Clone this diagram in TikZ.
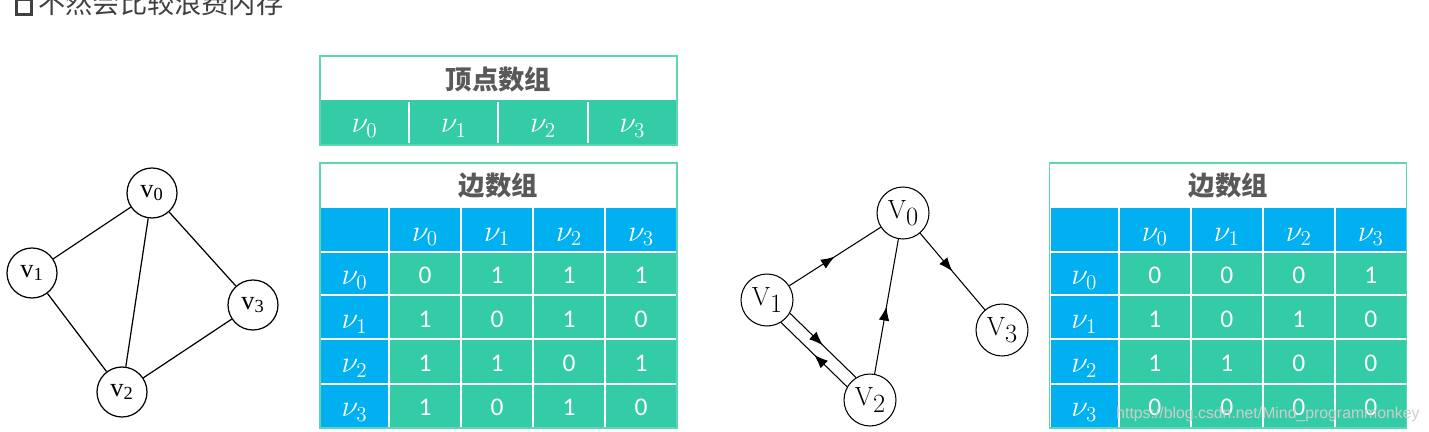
\documentclass[tikz,border=0pt]{standalone}
\usepackage{fontspec}
\usepackage{amsmath}
\usepackage{tikz}
\usetikzlibrary{arrows.meta, calc, decorations.markings}

\newfontfamily\cjk{Noto Sans CJK SC}
\newfontfamily\cellfont{Carlito}
\newfontfamily\timesfont{Liberation Serif}
\newfontfamily\urlfont{Liberation Sans}

\definecolor{tgreen}{RGB}{51,204,166}
\definecolor{tblue}{RGB}{0,176,240}
\definecolor{tborder}{RGB}{92,214,180}
\definecolor{titlegray}{RGB}{89,89,89}
\definecolor{textgray}{RGB}{64,64,64}
\definecolor{urlgray}{RGB}{205,205,205}

% edge array: #1 shift, #2 name prefix, #3 rows of the matrix
\newcommand{\edgearray}[3]{%
  \begin{scope}[xshift=#1]
    \draw[fill=white, draw=tborder, line width=0.6pt] (320,163) rectangle (677,428);
    \node[ttl] (#2title) at (498.5,186) {边数组};
    \fill[tblue] (321,208) rectangle (676,252);
    \fill[tblue] (321,252) rectangle (389,427);
    \fill[tgreen] (389,252) rectangle (676,427);
    % white grid
    \foreach \x in {389,461,533,605} \draw[grid] (\x,208) -- (\x,427);
    \foreach \y in {252,295,339,384} \draw[grid] (321,\y) -- (676,\y);
    % labels
    \foreach \i in {0,...,3} {
      \node[lab] (#2c\i) at ({425+72*\i},241) {$\nu_{\i}$};
      \node[lab] (#2r\i) at (354.5,{284.5+44*\i}) {$\nu_{\i}$};
    }
    \foreach \rowi/\vals in {#3} {
      \foreach \bit [count=\c from 0] in \vals
        \node[numtxt] (#2m\rowi\c) at ({425+72*\c},{283+44*\rowi}) {\bit};
    }
  \end{scope}}

\begin{document}
\begin{tikzpicture}[x=0.02cm, y=-0.02cm,
  vtx/.style={circle, draw, line width=0.7pt, minimum size=1cm, inner sep=0pt,
    font=\timesfont\fontsize{15}{17}\selectfont},
  dvtx/.style={circle, draw, line width=0.6pt, minimum size=1.04cm, inner sep=0pt,
    font=\fontsize{15}{18}\selectfont},
  link/.style={line width=0.7pt},
  darc/.style={line width=0.6pt, postaction={decorate},
    decoration={markings, mark=at position 0.5 with {\arrow{Latex[length=8pt,width=6pt]}}}},
  ttl/.style={font=\cjk\bfseries\fontsize{15}{18}\selectfont, text=titlegray},
  grid/.style={white, line width=1.1pt},
  lab/.style={anchor=base, text=white, font=\fontsize{18}{20}\selectfont},
  numtxt/.style={anchor=base, text=white, font=\cellfont\fontsize{14.5}{17}\selectfont}
]
\useasboundingbox (0,0) rectangle (1429,432);

% Heading line
\node[draw=textgray, line width=1.8pt, minimum size=8.6pt, inner sep=0pt] (bullet) at (24,7) {};
\node[anchor=base west, inner sep=0pt, text=textgray, font=\cjk\fontsize{15.5}{18}\selectfont]
  (intro) at (38,14) {不然会比较浪费内存};

% Undirected graph
\node[vtx] (a0) at (152,193) {v\textsubscript{0}};
\node[vtx] (a1) at (32,273) {v\textsubscript{1}};
\node[vtx] (a2) at (122,392) {v\textsubscript{2}};
\node[vtx] (a3) at (253,305) {v\textsubscript{3}};
\draw[link] (a0) -- (a1) (a0) -- (a2) (a0) -- (a3) (a1) -- (a2) (a2) -- (a3);

% Vertex array
\draw[fill=white, draw=tborder, line width=0.6pt] (320,56) rectangle (677,145);
\node[ttl] (vtitle) at (498.5,79) {顶点数组};
\fill[tgreen] (321,100) rectangle (676,144);
\foreach \x in {409,498,588} \draw[grid] (\x,102) -- (\x,143);
\foreach \i in {0,...,3}
  \node[lab] (va\i) at ({364.6+89.25*\i},133) {$\nu_{\i}$};

% Edge array of the undirected graph
\edgearray{0cm}{A}{0/{0,1,1,1},1/{1,0,1,0},2/{1,1,0,1},3/{1,0,1,0}}

% Directed graph
\node[dvtx] (b0) at (903,213) {V\raisebox{-3.8pt}{0}};
\node[dvtx] (b1) at (767,300) {V\raisebox{-3.8pt}{1}};
\node[dvtx] (b2) at (870,400) {V\raisebox{-3.8pt}{2}};
\node[dvtx] (b3) at (1002,330) {V\raisebox{-3.8pt}{3}};
\draw[darc] (b1) -- (b0);
\draw[darc] (b0) -- (b3);
\draw[darc] (b2) -- (b0);
\draw[darc] (b1.-30) -- (b2.122);
\draw[darc] (b2.150) -- (b1.-58);

% Edge array of the directed graph
\edgearray{14.6cm}{B}{0/{0,0,0,1},1/{1,0,1,0},2/{1,1,0,0},3/{0,0,0,0}}

\node[anchor=base west, inner sep=0pt, text=urlgray, font=\urlfont\fontsize{9}{11}\selectfont]
  (url) at (1116,418) {https://blog.csdn.net/Mind\_programmonkey};
\end{tikzpicture}
\end{document}
